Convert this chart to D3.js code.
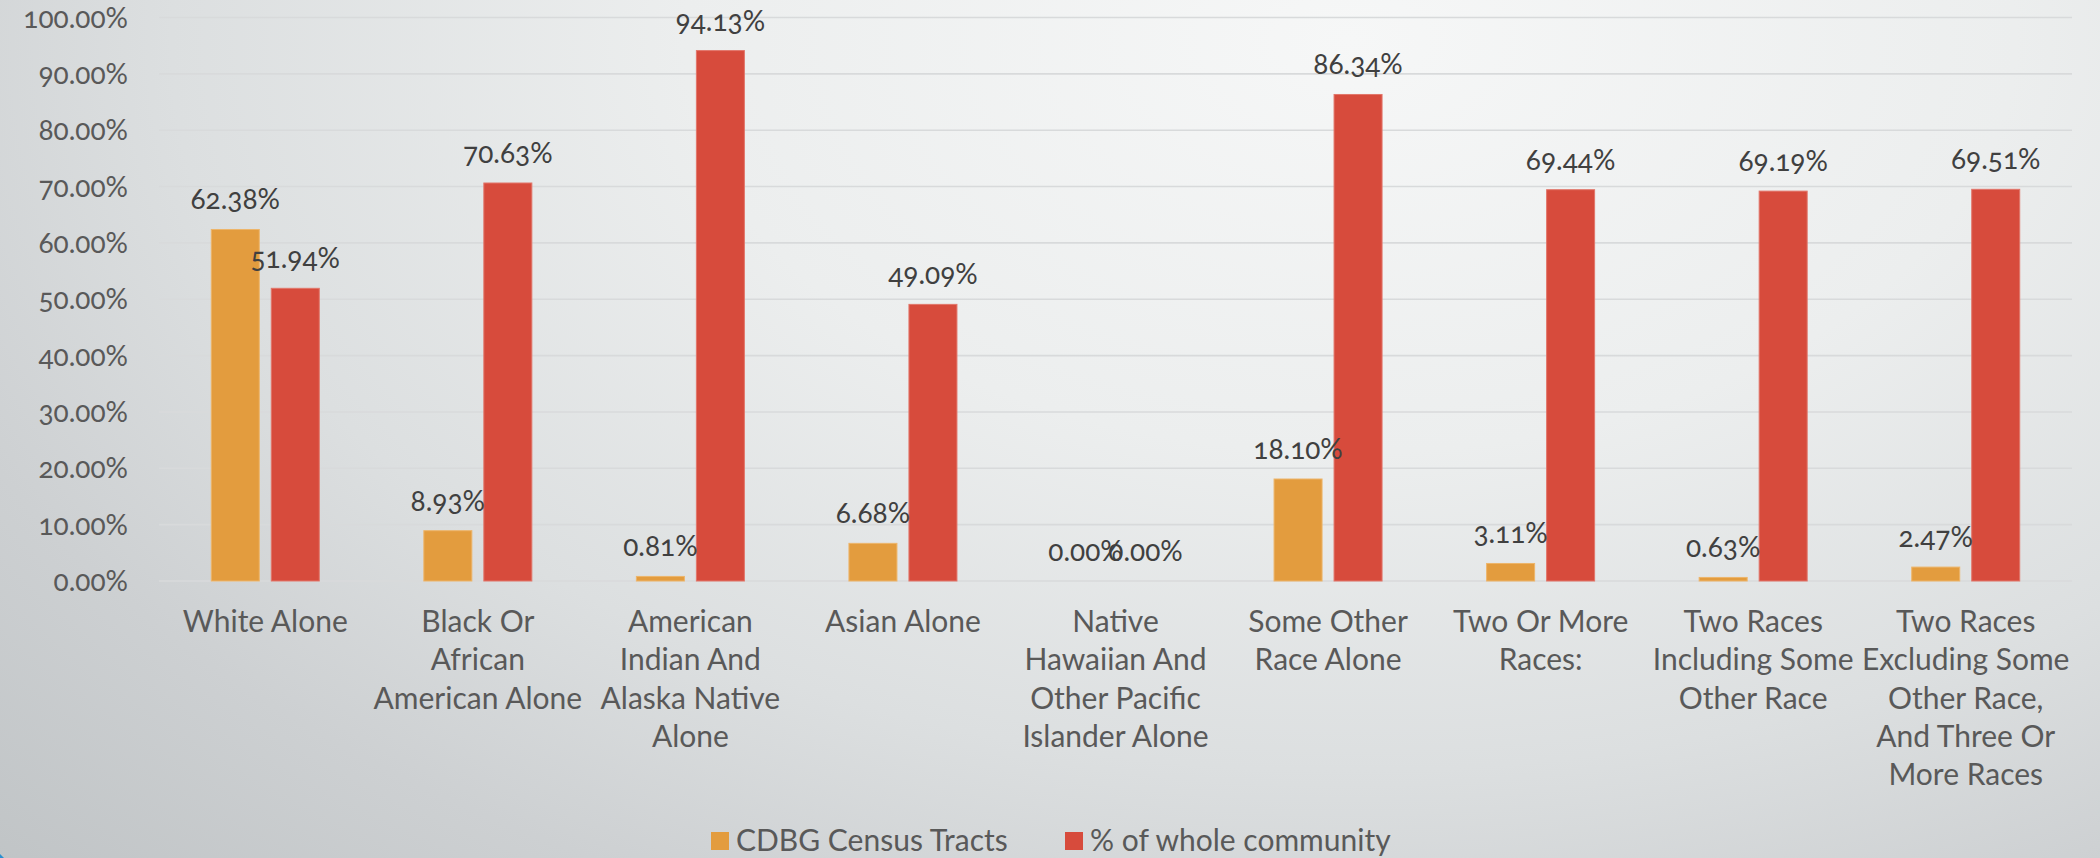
<!DOCTYPE html>
<html>
<head>
<meta charset="utf-8">
<script src="https://cdn.jsdelivr.net/npm/d3@7"></script>
<style>
  html, body { margin: 0; padding: 0; overflow: hidden; }
  svg { display: block; }
  text { font-family: Lato, "Open Sans", sans-serif; }
  .num { font-feature-settings: "onum" 1; font-variant-numeric: oldstyle-nums; }
</style>
</head>
<body>
<svg id="chart" width="2100" height="858"></svg>
<script>
const categories = [
  ["White Alone"],
  ["Black Or", "African", "American Alone"],
  ["American", "Indian And", "Alaska Native", "Alone"],
  ["Asian Alone"],
  ["Native", "Hawaiian And", "Other Pacific", "Islander Alone"],
  ["Some Other", "Race Alone"],
  ["Two Or More", "Races:"],
  ["Two Races", "Including Some", "Other Race"],
  ["Two Races", "Excluding Some", "Other Race,", "And Three Or", "More Races"]
];
const seriesNames = ["CDBG Census Tracts", "% of whole community"];
const cdbgValues = [62.38, 8.93, 0.81, 6.68, 0.00, 18.10, 3.11, 0.63, 2.47];
const wholeValues = [51.94, 70.63, 94.13, 49.09, 0.00, 86.34, 69.44, 69.19, 69.51];
const yTicks = [0, 10, 20, 30, 40, 50, 60, 70, 80, 90, 100];
const colors = ["#E39C3E", "#D74B3C"];
const strokeColors = ["#EDB56A", "#E2766A"];

const W = 2100, H = 858;
const svg = d3.select("#chart");

// background gradient
const defs = svg.append("defs");
const grad = defs.append("radialGradient")
  .attr("id", "bg").attr("gradientUnits", "userSpaceOnUse")
  .attr("cx", 1350).attr("cy", 40).attr("r", 1900)
  .attr("fx", 1350).attr("fy", 40)
  .attr("gradientTransform", "translate(1350,40) scale(1,0.62) translate(-1350,-40)");
[[0, "#f6f7f7"], [0.35, "#eceeee"], [0.62, "#dcdfe0"], [0.8, "#cdd0d2"], [1, "#c0c4c6"]]
  .forEach(([o, c]) => grad.append("stop").attr("offset", o).attr("stop-color", c));
svg.append("rect").attr("width", W).attr("height", H).attr("fill", "url(#bg)");
svg.append("path").attr("d", "M0,854 L4,858 L0,858 Z").attr("fill", "#2a8fd0");

const plotLeft = 159, plotRight = 2072, plotTop = 17.5, plotBottom = 581;
const x = d3.scaleBand().domain(d3.range(categories.length)).range([plotLeft, plotRight]);
const bw = x.bandwidth();
const xs = d3.scaleBand().domain([0, 1]).range([bw / 2 - 54, bw / 2 + 54]).paddingInner(0.2);
const y = d3.scaleLinear().domain([0, 100]).range([plotBottom, plotTop]);

// gridlines
svg.append("g").selectAll("line").data(yTicks).join("line")
  .attr("x1", plotLeft).attr("x2", plotRight)
  .attr("y1", d => y(d)).attr("y2", d => y(d))
  .attr("stroke", "#d8dadb").attr("stroke-width", 1.6);

// y axis labels
const yAxis = d3.axisLeft(y).tickValues(yTicks).tickSize(0).tickPadding(0)
  .tickFormat(d => d3.format(".2f")(d) + "%");
const yg = svg.append("g").attr("transform", "translate(128,0)").call(yAxis);
yg.select(".domain").remove();
yg.attr("font-family", null).attr("font-size", null);
yg.selectAll("text").attr("class", "num").attr("font-size", 28).attr("fill", "#595959")
  .attr("dy", "0.34em");

// bars
const seriesData = [cdbgValues, wholeValues];
seriesData.forEach((vals, si) => {
  const g = svg.append("g");
  g.selectAll("rect").data(vals).join("rect")
    .attr("x", (d, i) => x(i) + xs(si))
    .attr("width", xs.bandwidth())
    .attr("y", d => y(d))
    .attr("height", d => y(0) - y(d))
    .attr("fill", colors[si])
    .attr("stroke", d => d > 0 ? strokeColors[si] : "none")
    .attr("stroke-width", 1);
});
// value labels
seriesData.forEach((vals, si) => {
  svg.append("g").selectAll("text").data(vals).join("text")
    .attr("class", "num")
    .attr("x", (d, i) => x(i) + xs(si) + xs.bandwidth() / 2)
    .attr("y", d => y(d) - 20)
    .attr("text-anchor", "middle")
    .attr("font-size", 28).attr("fill", "#404040")
    .text(d => d3.format(".2f")(d) + "%");
});

// category labels
const cg = svg.append("g");
categories.forEach((lines, i) => {
  const t = cg.append("text")
    .attr("x", x(i) + bw / 2).attr("y", 632)
    .attr("text-anchor", "middle").attr("font-size", 30).attr("fill", "#595959");
  lines.forEach((ln, j) => {
    t.append("tspan").attr("x", x(i) + bw / 2).attr("y", 632 + j * 38.3).text(ln);
  });
});

// legend
const legendX = [711, 1065];
const lg = svg.append("g");
seriesNames.forEach((name, i) => {
  lg.append("rect").attr("x", legendX[i]).attr("y", 832).attr("width", 18).attr("height", 18)
    .attr("fill", colors[i]);
  lg.append("text").attr("x", legendX[i] + 25).attr("y", 851)
    .attr("font-size", 30).attr("fill", "#595959").text(name);
});
</script>
</body>
</html>
